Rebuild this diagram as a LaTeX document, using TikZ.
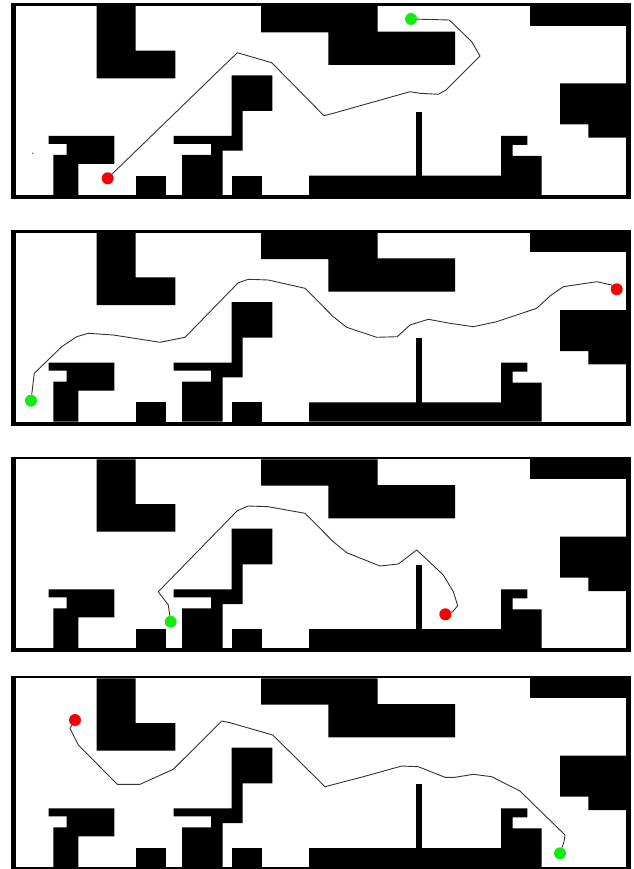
\documentclass[tikz,border=0pt]{standalone}
\usepackage{tikz}
\usetikzlibrary{calc}

\definecolor{goalgreen}{RGB}{20,235,20}
\definecolor{startred}{RGB}{250,0,0}

\tikzset{
  wall/.style={fill=black},
  route/.style={line width=0.9pt, black!80, line join=round},
  startdot/.style={circle, fill=startred, inner sep=0pt, minimum size=12pt},
  goaldot/.style={circle, fill=goalgreen, inner sep=0pt, minimum size=12pt},
}

\begin{document}
\begin{tikzpicture}[x=1pt, y=-1pt]
  \useasboundingbox (0,0) rectangle (633,869);
  % the same map, four times
  \foreach \dy in {0,226.7,453.3,672.3} {
    \begin{scope}[shift={(0,\dy)}]
      \fill[wall] (11,3.3) rectangle (631,199);
      \fill[white] (16,6) rectangle (626,195);
      \fill[wall] (96.7,6) -- (135.7,6) -- (135.7,50.7) -- (175.3,50.7) -- (175.3,78.3) -- (96.7,78.3) -- cycle;
      \fill[wall] (261,6) -- (377.7,6) -- (377.7,31.7) -- (455,31.7) -- (455,65) -- (328.3,65) -- (328.3,32.3) -- (261,32.3) -- cycle;
      \fill[wall] (530,6) rectangle (626,25.7);
      \fill[wall] (560,83.3) -- (626,83.3) -- (626,137.7) -- (588.3,137.7) -- (588.3,124.3) -- (560,124.3) -- cycle;
      \fill[wall] (48.7,136) -- (114.3,136) -- (114.3,164) -- (78.3,164) -- (78.3,195) -- (53.3,195) -- (53.3,155) -- (66.7,155) -- (66.7,144) -- (48.7,144) -- cycle;
      \fill[wall] (135.7,175.7) rectangle (165.7,195);
      \fill[wall] (173.7,136) -- (231.7,136) -- (231.7,75.3) -- (272.3,75.3) -- (272.3,111) -- (242.7,111) -- (242.7,150.7) -- (222.7,150.7) -- (222.7,195) -- (182,195) -- (182,155) -- (211,155) -- (211,144) -- (173.7,144) -- cycle;
      \fill[wall] (231.7,175.7) rectangle (262.3,195);
      \fill[wall] (309,195) -- (309,175.7) -- (501,175.7) -- (501,136) -- (527.3,136) -- (527.3,145) -- (512.7,145) -- (512.7,156) -- (541.7,156) -- (541.7,195) -- cycle;
      \fill[wall] (415.7,111.7) rectangle (422,176);
    \end{scope}
  }
  \fill[black!60] (32.7,153.3) circle (0.8);

  % first run
  \node[startdot] (s1) at (107.7,178.3) {};
  \node[goaldot] (g1) at (411,19) {};
  \draw[route] (s1) -- (237.3,52.7) -- (271.7,62.7) -- (320,111.7) -- (324,115.7) -- (333.3,113.3)
    -- (410,91.7) -- (420,93.3) -- (438.3,94.3) -- (446,90) -- (480,56) -- (471.7,41.7)
    -- (449.3,20) -- (g1);

  % second run
  \node[goaldot] (g2) at (31,400.7) {};
  \node[startdot] (s2) at (616.7,289.3) {};
  \draw[route] (g2) -- (34.3,373.3) -- (61.7,346.7) -- (76.7,336.7) -- (88.3,333.3) -- (113.3,335)
    -- (160,342.3) -- (185,337.3) -- (238.3,282.7) -- (248.3,279.3) -- (268.3,280) -- (305,288.3)
    -- (333.3,316.7) -- (346.7,327.3) -- (376.7,337.3) -- (397.3,336.7) -- (410,325) -- (428.3,319.3)
    -- (450,323.3) -- (473.3,326.7) -- (496.7,321.7) -- (536.7,308.3) -- (550,296) -- (563.3,286.7)
    -- (596.7,281.7) -- (611.7,285) -- (s2);

  % third run
  \node[goaldot] (g3) at (170.7,621.7) {};
  \node[startdot] (s3) at (445.3,614.3) {};
  \draw[route] (g3) -- (168.3,605) -- (158.3,591.7) -- (237.3,510.7) -- (248.3,506) -- (268.3,506.7)
    -- (305,513.3) -- (333.3,541.7) -- (346.7,552.7) -- (380,566) -- (398.3,564) -- (416.7,550)
    -- (443.3,575) -- (453.3,591.7) -- (457.7,605.7) -- (452.7,611.7) -- (s3);

  % fourth run
  \node[startdot] (s4) at (75,720) {};
  \node[goaldot] (g4) at (560,853.3) {};
  \draw[route] (s4) -- (70,728.3) -- (78.3,745) -- (117.3,784.3) -- (140,784.3) -- (173.3,769.3)
    -- (221.7,721) -- (230,722.7) -- (272.7,735) -- (325,786.7) -- (363.3,776.7) -- (401.7,766)
    -- (418.3,766.7) -- (445,777.3) -- (455,777.3) -- (473.3,774.3) -- (491.7,776.7) -- (520,791)
    -- (565,835) -- (564,841.7) -- (g4);
\end{tikzpicture}
\end{document}
